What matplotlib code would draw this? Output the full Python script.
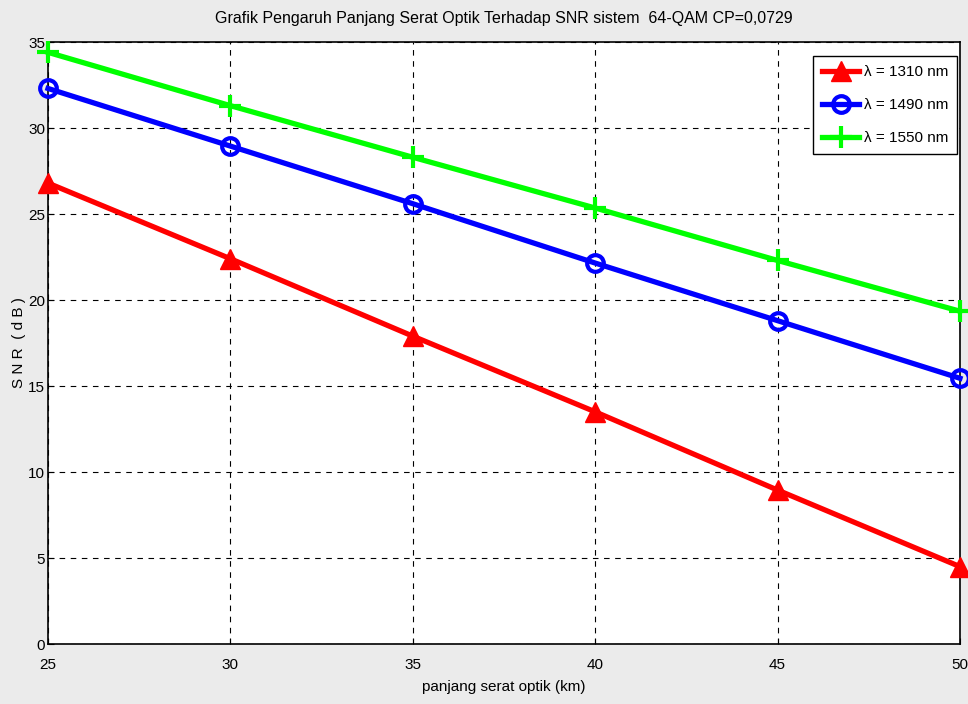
import matplotlib
matplotlib.use("Agg")
import matplotlib.pyplot as plt
from matplotlib import font_manager

names = {f.name for f in font_manager.fontManager.ttflist}
fam = ['Liberation Sans Narrow', 'Liberation Sans', 'DejaVu Sans']
fam = [f for f in fam if f in names] + ['DejaVu Sans']
plt.rcParams['font.family'] = fam

x_km = [25, 30, 35, 40, 45, 50]
snr_1310 = [26.8, 22.4, 17.9, 13.5, 8.95, 4.5]
snr_1490 = [32.3, 28.95, 25.6, 22.15, 18.8, 15.45]
snr_1550 = [34.4, 31.3, 28.3, 25.35, 22.3, 19.35]
labels = ['λ = 1310 nm', 'λ = 1490 nm', 'λ = 1550 nm']
xticks = [25, 30, 35, 40, 45, 50]
yticks = [0, 5, 10, 15, 20, 25, 30, 35]

fig = plt.figure(figsize=(9.68, 7.04), dpi=100, facecolor='#ebebeb')
ax = fig.add_axes([0.0496, 0.0852, 0.9421, 0.8551])
ax.set_facecolor('white')

ax.plot(x_km, snr_1310, color='#ff0000', lw=3.8, marker='^', ms=15,
        mfc='#ff0000', mec='#ff0000', label=labels[0], clip_on=False, zorder=3)
ax.plot(x_km, snr_1490, color='#0000ff', lw=3.8, marker='o', ms=12,
        mfc='none', mec='#0000ff', mew=3, label=labels[1], clip_on=False, zorder=3)
ax.plot(x_km, snr_1550, color='#00ff00', lw=3.8, marker='+', ms=16,
        mec='#00ff00', mew=3, label=labels[2], clip_on=False, zorder=3)

ax.set_xlim(25, 50)
ax.set_ylim(0, 35)
ax.set_xticks(xticks)
ax.set_yticks(yticks)
ax.grid(True, color='black', ls=(0, (5, 5)), lw=0.8)
ax.tick_params(direction='in', labelsize=11, length=4)
ax.tick_params(axis='x', pad=10)
ax.tick_params(axis='y', pad=2)
for s in ax.spines.values():
    s.set_linewidth(1.2)

ax.set_title('Grafik Pengaruh Panjang Serat Optik Terhadap SNR sistem  64-QAM CP=0,0729',
             fontsize=11.5, pad=14)
ax.set_xlabel('panjang serat optik (km)', fontsize=11, labelpad=6)
ax.set_ylabel('S N R  ( d B )', fontsize=11, labelpad=1.5)

leg = ax.legend(loc='upper right', fontsize=11, fancybox=False, framealpha=1,
                edgecolor='black', handlelength=2.4, borderpad=0.6,
                labelspacing=1.25, handletextpad=0.3, borderaxespad=0,
                bbox_to_anchor=(0.997, 0.977))
leg.get_frame().set_linewidth(1.0)

fig.savefig('out.png', dpi=100, facecolor=fig.get_facecolor())
